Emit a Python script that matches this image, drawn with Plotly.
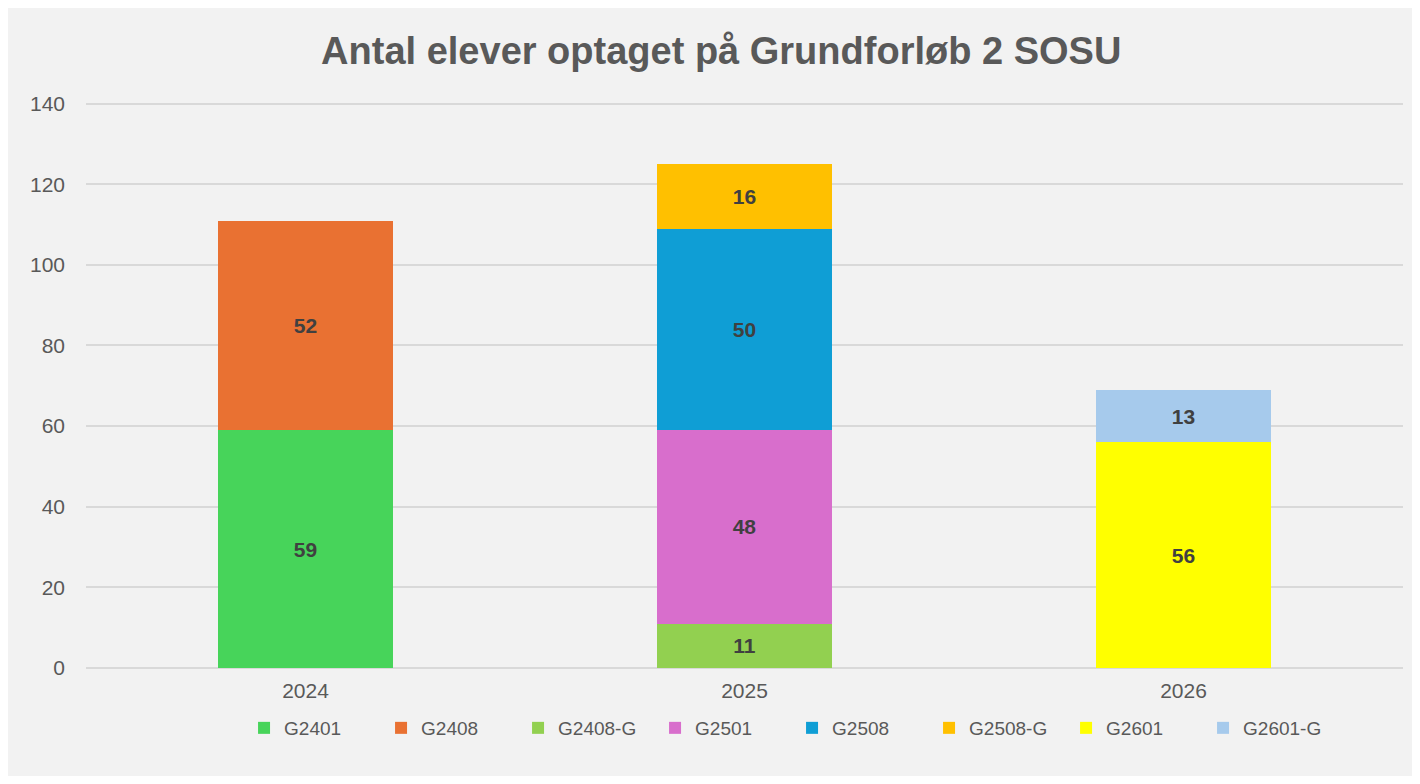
import plotly.graph_objects as go

# Data
years = ["2024", "2025", "2026"]
series_names = ["G2401", "G2408", "G2408-G", "G2501", "G2508", "G2508-G", "G2601", "G2601-G"]
g2401 = [59, None, None]
g2408 = [52, None, None]
g2408_g = [None, 11, None]
g2501 = [None, 48, None]
g2508 = [None, 50, None]
g2508_g = [None, 16, None]
g2601 = [None, None, 56]
g2601_g = [None, None, 13]
y_ticks = [0, 20, 40, 60, 80, 100, 120, 140]

COLORS = ["#47D45A", "#E97132", "#92D050", "#D86ECC", "#0F9ED5", "#FFC000", "#FFFF00", "#A6CAEC"]
BG_COLOR = "#F2F2F2"
TEXT_COLOR = "#595959"
LABEL_COLOR = "#404040"
GRID_COLOR = "#D9D9D9"
FONT = "Liberation Sans"

values = [g2401, g2408, g2408_g, g2501, g2508, g2508_g, g2601, g2601_g]

fig = go.Figure()
for name, vals, color in zip(series_names, values, COLORS):
    fig.add_trace(go.Bar(
        x=years,
        y=vals,
        name=name,
        marker=dict(color=color, line=dict(width=0)),
        texttemplate="%{y}",
        textposition="inside",
        insidetextanchor="middle",
        textangle=0,
        textfont=dict(family=FONT, size=21, color=LABEL_COLOR, weight="bold"),
        hovertemplate="%{x}: %{y}<extra>" + name + "</extra>",
    ))

fig.update_layout(
    barmode="stack",
    bargap=0.6,
    width=1404,
    height=768,
    margin=dict(l=78, r=9, t=94, b=108, autoexpand=False),
    paper_bgcolor=BG_COLOR,
    plot_bgcolor=BG_COLOR,
    font=dict(family=FONT, color=TEXT_COLOR, size=20),
    title=dict(
        text="Antal elever optaget på Grundforløb 2 SOSU",
        x=0.508, xanchor="center", xref="container",
        y=0.945, yanchor="middle", yref="container",
        font=dict(family=FONT, size=38, color=TEXT_COLOR, weight="bold"),
    ),
    legend=dict(
        orientation="h",
        x=0.12, xanchor="left",
        y=-0.106, yanchor="middle",
        font=dict(family=FONT, size=19, color=TEXT_COLOR),
        bgcolor="rgba(0,0,0,0)",
        itemwidth=30,
        entrywidth=92,
        entrywidthmode="pixels",
        traceorder="normal",
    ),
    xaxis=dict(
        showgrid=False,
        showline=False,
        zeroline=False,
        tickfont=dict(size=21, color=TEXT_COLOR),
        ticklabelstandoff=8,
    ),
    yaxis=dict(
        range=[0, 140.4],
        tickvals=y_ticks,
        showgrid=True,
        gridcolor=GRID_COLOR,
        gridwidth=1.5,
        zeroline=True,
        zerolinecolor=GRID_COLOR,
        zerolinewidth=1.5,
        showline=False,
        tickfont=dict(size=21, color=TEXT_COLOR),
        ticklabelstandoff=20,
    ),
)

fig.write_html("out.html")
